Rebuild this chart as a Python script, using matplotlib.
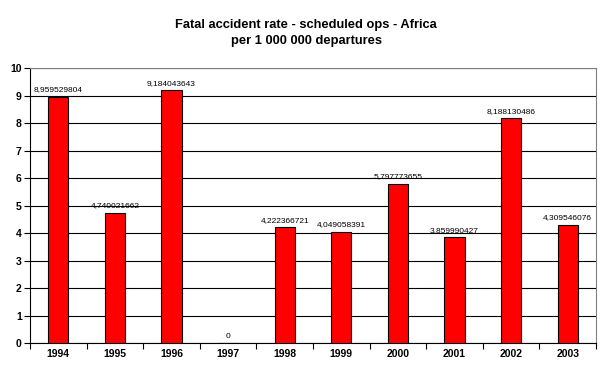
import numpy as np
import matplotlib.pyplot as plt

years = ['1994', '1995', '1996', '1997', '1998', '1999', '2000', '2001', '2002', '2003']
rates = [8.959529804, 4.740021662, 9.184043643, 0.0, 4.222366721,
         4.049058391, 5.797773655, 3.859990427, 8.188130486, 4.309546076]
labels = ['8,959529804', '4,740021662', '9,184043643', '0', '4,222366721',
          '4,049058391', '5,797773655', '3,859990427', '8,188130486', '4,309546076']

plt.rcParams['font.family'] = ['Liberation Sans', 'DejaVu Sans']

fig = plt.figure(figsize=(6.06, 3.80), dpi=100, facecolor='white')
ax = fig.add_axes([0.0495, 0.097, 0.934, 0.724])

x = np.arange(len(years))
ax.bar(x, rates, width=0.36, color='#ff0000', edgecolor='black', linewidth=0.8, zorder=3)
for xi, v, lab in zip(x, rates, labels):
    ax.text(xi, v + 0.12, lab, ha='center', va='bottom', fontsize=6, zorder=4)

ax.set_xlim(-0.5, len(years) - 0.5)
ax.set_ylim(0, 10)
ax.set_yticks(np.arange(0, 11, 1))
ax.set_yticklabels([str(i) for i in range(11)], fontweight='bold', fontsize=7.5)
ax.yaxis.grid(True, color='black', linewidth=0.8, zorder=0)

# category labels in the middle, tick marks on the boundaries
ax.set_xticks(x)
ax.set_xticklabels(years, fontweight='bold', fontsize=7.5)
ax.tick_params(axis='x', which='major', length=0, pad=4)
ax.set_xticks(np.arange(-0.5, len(years), 1), minor=True)
ax.tick_params(axis='x', which='minor', length=4, width=0.8, direction='out')
ax.tick_params(axis='y', length=4, width=0.8, direction='out', pad=2)

ax.spines['left'].set_color('black')
ax.spines['bottom'].set_color('black')
ax.spines['top'].set_color('#808080')
ax.spines['right'].set_color('#808080')
for s in ax.spines.values():
    s.set_linewidth(0.8)

fig.text(0.505, 0.95, 'Fatal accident rate - scheduled ops - Africa\nper 1 000 000 departures',
         ha='center', va='top', fontsize=9.3, fontweight='bold', linespacing=1.45)

fig.savefig('out.png', dpi=100, facecolor='white')
